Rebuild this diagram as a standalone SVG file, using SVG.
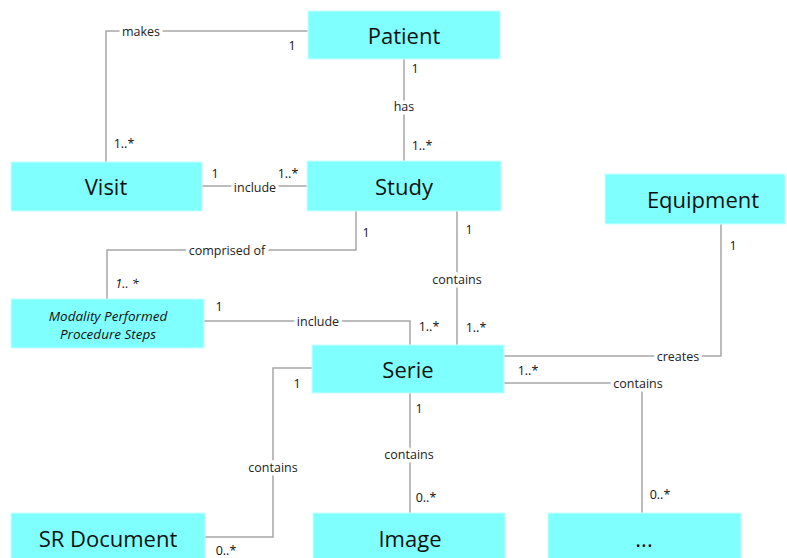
<svg xmlns="http://www.w3.org/2000/svg" width="787" height="558" viewBox="0 0 787 558">
  <style>
    .box { fill: #80ffff; stroke: #c8ffff; stroke-width: 1; }
    .name { font-family: "Open Sans", "Noto Sans", sans-serif; font-size: 22px; fill: #111; text-anchor: middle; dominant-baseline: central; }
    .mpps { font-family: "Open Sans", "Noto Sans", sans-serif; font-size: 13.5px; font-style: italic; fill: #111; text-anchor: middle; }
    .edge { fill: none; stroke: #a6a6a6; stroke-width: 1.5; }
    .lbl { font-family: "Open Sans", "Noto Sans", sans-serif; font-size: 12.5px; fill: #222; text-anchor: middle; dominant-baseline: central; paint-order: stroke; stroke: #fff; stroke-width: 7; stroke-linejoin: round; }
    .mult { font-family: "Open Sans", "Noto Sans", sans-serif; font-size: 12.5px; fill: #111; text-anchor: middle; dominant-baseline: central; }
  </style>
  <rect width="787" height="558" fill="#fff"/>

  <!-- associations -->
  <g id="connectors">
    <path class="edge" d="M308 31 H106 V162"/>
    <path class="edge" d="M404 52 V161"/>
    <path class="edge" d="M202 186 H307"/>
    <path class="edge" d="M356 211 V250 H107 V299"/>
    <path class="edge" d="M457 211 V345"/>
    <path class="edge" d="M204 321 H410 V345"/>
    <path class="edge" d="M504 356 H721 V224"/>
    <path class="edge" d="M504 383 H642 V513"/>
    <path class="edge" d="M312 368 H273 V537 H205"/>
    <path class="edge" d="M410 393 V513"/>

    <text class="lbl" x="141" y="31">makes</text>
    <text class="lbl" x="404" y="106">has</text>
    <text class="lbl" x="255" y="187">include</text>
    <text class="lbl" x="227" y="250">comprised of</text>
    <text class="lbl" x="457" y="279">contains</text>
    <text class="lbl" x="318" y="321">include</text>
    <text class="lbl" x="678" y="356">creates</text>
    <text class="lbl" x="638" y="383">contains</text>
    <text class="lbl" x="273" y="467">contains</text>
    <text class="lbl" x="409" y="454">contains</text>

    <text class="mult" x="292" y="45">1</text>
    <text class="mult" x="124" y="143">1..*</text>
    <text class="mult" x="415" y="68">1</text>
    <text class="mult" x="422" y="145">1..*</text>
    <text class="mult" x="215" y="173">1</text>
    <text class="mult" x="288" y="173">1..*</text>
    <text class="mult" x="366" y="232">1</text>
    <text class="mult" x="127" y="283" font-style="italic">1.. *</text>
    <text class="mult" x="469" y="229">1</text>
    <text class="mult" x="476" y="327">1..*</text>
    <text class="mult" x="219" y="306">1</text>
    <text class="mult" x="429" y="326">1..*</text>
    <text class="mult" x="733" y="245">1</text>
    <text class="mult" x="528" y="370">1..*</text>
    <text class="mult" x="660" y="494">0..*</text>
    <text class="mult" x="297" y="383">1</text>
    <text class="mult" x="226" y="550">0..*</text>
    <text class="mult" x="419" y="408">1</text>
    <text class="mult" x="426" y="497">0..*</text>
  </g>

  <g id="patient">
    <rect class="box" x="308" y="11" width="192" height="48"/>
    <text class="name" x="404" y="35">Patient</text>
  </g>
  <g id="visit">
    <rect class="box" x="11" y="162" width="191" height="49"/>
    <text class="name" x="106" y="186">Visit</text>
  </g>
  <g id="study">
    <rect class="box" x="307" y="161" width="194" height="50"/>
    <text class="name" x="404" y="186">Study</text>
  </g>
  <g id="equipment">
    <rect class="box" x="605" y="174" width="180" height="50"/>
    <text class="name" x="703" y="199">Equipment</text>
  </g>
  <g id="mpps">
    <rect class="box" x="11" y="299" width="193" height="49"/>
    <text class="mpps" x="108" y="321">Modality Performed</text>
    <text class="mpps" x="108" y="339">Procedure Steps</text>
  </g>
  <g id="serie">
    <rect class="box" x="312" y="345" width="192" height="48"/>
    <text class="name" x="408" y="369">Serie</text>
  </g>
  <g id="sr-document">
    <rect class="box" x="11" y="513" width="194" height="50"/>
    <text class="name" x="108" y="538">SR Document</text>
  </g>
  <g id="image">
    <rect class="box" x="313" y="513" width="192" height="50"/>
    <text class="name" x="410" y="538">Image</text>
  </g>
  <g id="other">
    <rect class="box" x="548" y="513" width="193" height="50"/>
    <text class="name" x="644" y="538">...</text>
  </g>
</svg>
